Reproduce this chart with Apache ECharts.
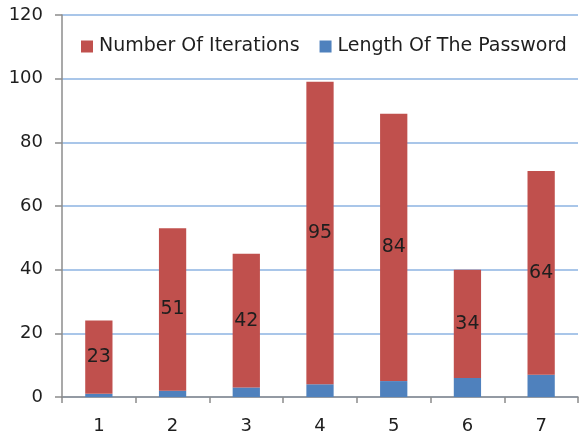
<!DOCTYPE html>
<html>
<head>
<meta charset="utf-8">
<script src="https://cdn.jsdelivr.net/npm/echarts@6/dist/echarts.min.js"></script>
<style>
  html, body { margin: 0; padding: 0; background: #fff; }
  #chart { width: 579px; height: 437px; }
</style>
</head>
<body>
<div id="chart"></div>
<script>
// Password test runs: password length vs. iterations needed
const categories = ['1', '2', '3', '4', '5', '6', '7'];
const passwordLength = [1, 2, 3, 4, 5, 6, 7];
const iterations = [23, 51, 42, 95, 84, 34, 64];
const yTicks = { min: 0, max: 120, interval: 20 };

const FONT = '"DejaVu Sans", "Noto Sans", sans-serif';
const RED = '#C0504D';
const BLUE = '#4F81BD';
const TEXT = '#1e1e1e';

const chart = echarts.init(document.getElementById('chart'), null, { renderer: 'canvas' });

chart.setOption({
  animation: false,
  textStyle: { fontFamily: FONT },
  grid: { left: 62, right: 1, top: 15, bottom: 40 },
  legend: {
    data: ['Number Of Iterations', 'Length Of The Password'],
    left: 76,
    top: 32,
    icon: 'rect',
    itemWidth: 12,
    itemHeight: 12,
    itemGap: 20,
    textStyle: { fontFamily: FONT, fontSize: 19, color: TEXT, padding: [0, 0, 0, 1] }
  },
  xAxis: {
    type: 'category',
    data: categories,
    axisLine: { lineStyle: { color: '#8c8c8c', width: 1.5 } },
    axisTick: { show: true, length: 6, lineStyle: { color: '#8c8c8c', width: 1.5 } },
    axisLabel: { fontFamily: FONT, fontSize: 18, color: TEXT, margin: 20 }
  },
  yAxis: {
    type: 'value',
    min: yTicks.min,
    max: yTicks.max,
    interval: yTicks.interval,
    axisLine: { show: true, lineStyle: { color: '#8c8c8c', width: 1.5 } },
    axisTick: { show: true, length: 7, lineStyle: { color: '#8c8c8c', width: 1.5 } },
    axisLabel: { fontFamily: FONT, fontSize: 18, color: TEXT, margin: 19 },
    splitLine: { lineStyle: { color: '#8DB3E2', width: 1.5 } }
  },
  series: [
    {
      name: 'Length Of The Password',
      type: 'bar',
      stack: 'total',
      barWidth: '37%',
      data: passwordLength,
      itemStyle: { color: BLUE }
    },
    {
      name: 'Number Of Iterations',
      type: 'bar',
      stack: 'total',
      barWidth: '37%',
      data: iterations,
      itemStyle: { color: RED },
      label: {
        show: true,
        position: 'inside',
        fontFamily: FONT,
        fontSize: 19,
        color: TEXT
      }
    }
  ]
});
</script>
</body>
</html>
